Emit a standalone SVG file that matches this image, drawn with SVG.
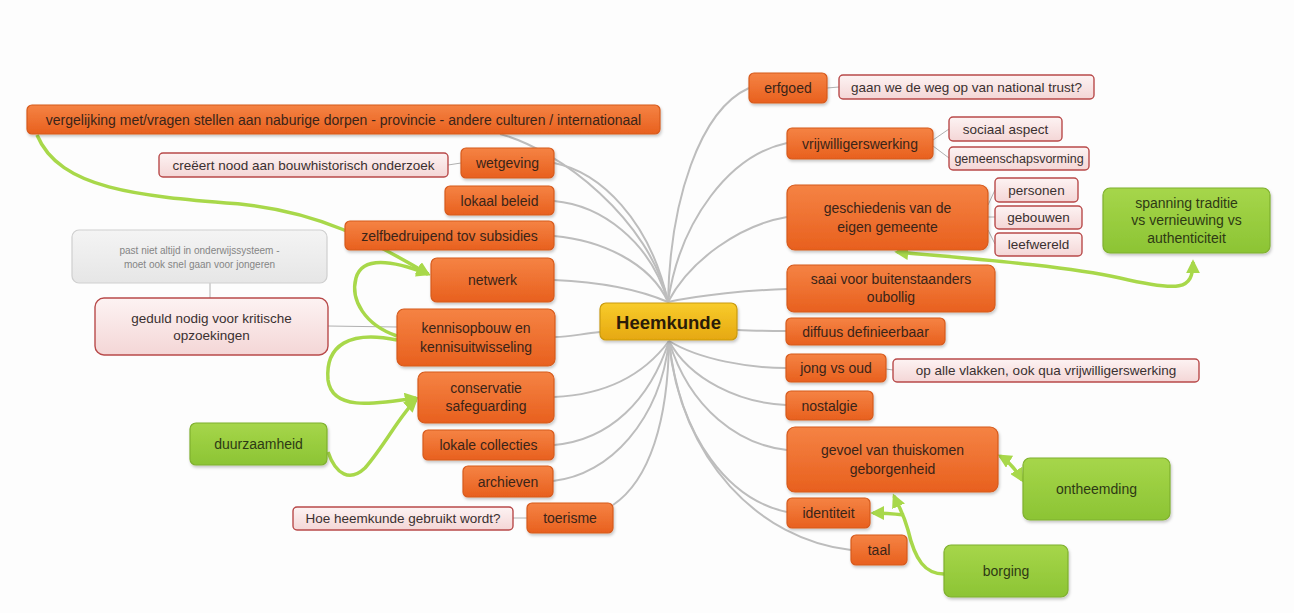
<svg xmlns="http://www.w3.org/2000/svg" width="1294" height="613" viewBox="0 0 1294 613">
<defs>
<linearGradient id="gOr" x1="0" y1="0" x2="0" y2="1"><stop offset="0" stop-color="#f58344"/><stop offset="1" stop-color="#e8601e"/></linearGradient>
<linearGradient id="gGr" x1="0" y1="0" x2="0" y2="1"><stop offset="0" stop-color="#a6d64a"/><stop offset="1" stop-color="#8cc434"/></linearGradient>
<linearGradient id="gGo" x1="0" y1="0" x2="0" y2="1"><stop offset="0" stop-color="#f8cc2c"/><stop offset="1" stop-color="#e6a810"/></linearGradient>
<linearGradient id="gPk" x1="0" y1="0" x2="0" y2="1"><stop offset="0" stop-color="#fdf3f3"/><stop offset="1" stop-color="#f4d6d6"/></linearGradient>
<linearGradient id="gGy" x1="0" y1="0" x2="0" y2="1"><stop offset="0" stop-color="#f4f4f4"/><stop offset="1" stop-color="#e6e6e6"/></linearGradient>
<filter id="sh" x="-10%" y="-20%" width="120%" height="150%"><feDropShadow dx="1" dy="2" stdDeviation="1.5" flood-color="#000" flood-opacity="0.22"/></filter>
<marker id="ga" viewBox="0 0 10 10" refX="8" refY="5" markerWidth="4" markerHeight="4" orient="auto-start-reverse"><path d="M0,0 L10,5 L0,10 z" fill="#a8d84a"/></marker>
<style>
.or{fill:url(#gOr);stroke:#d65a1c;stroke-width:1.2;filter:url(#sh)}
.gr{fill:url(#gGr);stroke:#7fb02e;stroke-width:1.2;filter:url(#sh)}
.go{fill:url(#gGo);stroke:#c99a10;stroke-width:1.2;filter:url(#sh)}
.pk{fill:url(#gPk);stroke:#b84a4a;stroke-width:1.4}
.gy{fill:url(#gGy);stroke:#cfcfcf;stroke-width:1.2}
text{font-family:"Liberation Sans","DejaVu Sans",Arial,sans-serif;font-size:14px;fill:#3a2418;text-anchor:middle;dominant-baseline:central}
.tg{fill:#2e3a14}
.tp{fill:#3a3030;font-size:13.5px}
.ts{font-size:12.5px}
.ty{fill:#858585;font-size:10px}
.th{font-size:18.5px;font-weight:bold;fill:#2a1c08}
.c path{fill:none;stroke:#bdbdbd;stroke-width:2}
.c .t{stroke:#b0b0b0;stroke-width:1}
.c .g{stroke:#a8d84a;stroke-width:3.5;marker-end:url(#ga)}
.c .gb{stroke:#a8d84a;stroke-width:3.5;marker-end:url(#ga);marker-start:url(#ga)}
</style>
</defs>
<rect width="1294" height="613" fill="#fdfdfd"/>
<g class="c" id="connectors">
<path d="M668,302 C650,220 560,150 500,134"/>
<path d="M668,302 C650,220 600,172 554,163"/>
<path d="M668,302 C650,240 600,205 554,201"/>
<path d="M668,302 C650,262 600,240 554,236"/>
<path d="M668,302 C640,290 600,282 554,280"/>
<path d="M600,332 C580,334 570,337 555,337"/>
<path d="M668,302 C670,200 700,110 749,88"/>
<path d="M668,302 C680,220 730,155 787,143"/>
<path d="M668,302 C690,260 740,225 787,217"/>
<path d="M668,302 C700,295 750,290 787,289"/>
<path d="M737,330 C755,331 770,331 786,331"/>
<path d="M669,341 C640,380 600,395 554,397"/>
<path d="M669,341 C650,400 610,440 554,445"/>
<path d="M669,341 C660,420 610,475 553,481"/>
<path d="M669,341 C668,420 650,480 613,505"/>
<path d="M669,341 C700,360 750,368 786,368"/>
<path d="M669,341 C690,380 740,403 786,405"/>
<path d="M669,341 C690,410 740,445 787,450"/>
<path d="M669,341 C680,440 730,500 787,512"/>
<path d="M669,341 C680,460 760,540 851,550"/>
<path class="t" d="M448,165 L461,163"/>
<path class="t" d="M513,518 L527,518"/>
<path class="t" d="M210,283 L210,298"/>
<path class="t" d="M328,326 L397,327"/>
<path class="t" d="M827,88 L839,87"/>
<path class="t" d="M933,140 L949,129"/>
<path class="t" d="M933,146 L949,158"/>
<path class="t" d="M988,205 L995,190"/>
<path class="t" d="M988,217 L995,217"/>
<path class="t" d="M988,230 L995,244"/>
<path class="t" d="M886,369 L893,370"/>
<path class="g" d="M37,135 C60,190 140,196 240,204 C320,212 370,240 428,274"/>
<path class="g" d="M397,336 C365,325 350,300 356,278 C362,256 392,260 428,274"/>
<path class="g" d="M397,340 C350,330 325,345 328,380 C332,410 370,405 416,398"/>
<path class="g" d="M328,452 C336,475 350,482 365,468 C385,445 400,415 416,400"/>
<path class="gb" d="M897,252 C960,258 1060,265 1120,278 C1180,292 1193,290 1193,262"/>
<path class="gb" d="M1000,456 C1010,462 1016,470 1022,480"/>
<path class="g" d="M944,574 C925,574 915,560 908,530 C903,512 898,505 894,496"/>
<path class="g" d="M904,515 C895,514 885,513 873,513"/>
</g>
<g id="n-heemkunde"><rect class="go" x="600" y="303" width="137" height="37" rx="6"/><text class="th" x="668.5" y="322">Heemkunde</text></g>
<g id="n-vergelijking"><rect class="or" x="27" y="105" width="633" height="29" rx="5"/><text x="343.5" y="120">vergelijking met/vragen stellen aan naburige dorpen - provincie - andere culturen / internationaal</text></g>
<g id="n-creeert"><rect class="pk" x="159" y="153" width="289" height="24" rx="4"/><text class="tp" x="303.5" y="165.5">creëert nood aan bouwhistorisch onderzoek</text></g>
<g id="n-wetgeving"><rect class="or" x="461" y="148" width="93" height="30" rx="5"/><text x="507.5" y="163">wetgeving</text></g>
<g id="n-lokaalbeleid"><rect class="or" x="445" y="186" width="109" height="29" rx="5"/><text x="499.5" y="201">lokaal beleid</text></g>
<g id="n-zelfbedruipend"><rect class="or" x="345" y="221" width="209" height="29" rx="5"/><text x="449.5" y="236">zelfbedruipend tov subsidies</text></g>
<g id="n-netwerk"><rect class="or" x="431" y="258" width="123" height="44" rx="6"/><text x="492.5" y="280">netwerk</text></g>
<g id="n-kennisopbouw"><rect class="or" x="397" y="309" width="158" height="57" rx="7"/><text x="476" y="328">kennisopbouw en</text><text x="476" y="347">kennisuitwisseling</text></g>
<g id="n-conservatie"><rect class="or" x="418" y="372" width="136" height="51" rx="7"/><text x="486" y="388">conservatie</text><text x="486" y="406">safeguarding</text></g>
<g id="n-lokalecollecties"><rect class="or" x="423" y="430" width="131" height="30" rx="5"/><text x="488.5" y="445">lokale collecties</text></g>
<g id="n-archieven"><rect class="or" x="463" y="466" width="90" height="31" rx="5"/><text x="508" y="481.5">archieven</text></g>
<g id="n-toerisme"><rect class="or" x="527" y="503" width="86" height="30" rx="5"/><text x="570" y="518">toerisme</text></g>
<g id="n-hoeheemkunde"><rect class="pk" x="293" y="507" width="220" height="23" rx="4"/><text class="tp" x="403" y="518.5">Hoe heemkunde gebruikt wordt?</text></g>
<g id="n-duurzaamheid"><rect class="gr" x="190" y="423" width="137" height="42" rx="6"/><text class="tg" x="258.5" y="444">duurzaamheid</text></g>
<g id="n-pastniet"><rect class="gy" x="72" y="230" width="255" height="53" rx="7"/><text class="ty" x="199.5" y="250">past niet altijd in onderwijssysteem -</text><text class="ty" x="199.5" y="264">moet ook snel gaan voor jongeren</text></g>
<g id="n-geduld"><rect class="pk" x="95" y="298" width="233" height="57" rx="9"/><text class="tp" x="211.5" y="318">geduld nodig voor kritische</text><text class="tp" x="211.5" y="335">opzoekingen</text></g>
<g id="n-erfgoed"><rect class="or" x="749" y="73" width="78" height="30" rx="5"/><text x="788" y="88">erfgoed</text></g>
<g id="n-nationaltrust"><rect class="pk" x="839" y="75" width="255" height="24" rx="4"/><text class="tp" x="966.5" y="87">gaan we de weg op van national trust?</text></g>
<g id="n-vrijwilligerswerking"><rect class="or" x="787" y="128" width="146" height="31" rx="5"/><text x="860" y="143.5">vrijwilligerswerking</text></g>
<g id="n-sociaal"><rect class="pk" x="949" y="117" width="113" height="24" rx="4"/><text class="tp" x="1005.5" y="129">sociaal aspect</text></g>
<g id="n-gemeenschap"><rect class="pk" x="949" y="147" width="140" height="23" rx="4"/><text class="tp ts" x="1019" y="158.5">gemeenschapsvorming</text></g>
<g id="n-geschiedenis"><rect class="or" x="787" y="185" width="201" height="65" rx="8"/><text x="887.5" y="208">geschiedenis van de</text><text x="887.5" y="227">eigen gemeente</text></g>
<g id="n-personen"><rect class="pk" x="995" y="178" width="83" height="24" rx="4"/><text class="tp" x="1036.5" y="190">personen</text></g>
<g id="n-gebouwen"><rect class="pk" x="995" y="206" width="87" height="23" rx="4"/><text class="tp" x="1038.5" y="217.5">gebouwen</text></g>
<g id="n-leefwereld"><rect class="pk" x="995" y="233" width="87" height="23" rx="4"/><text class="tp" x="1038.5" y="244.5">leefwereld</text></g>
<g id="n-spanning"><rect class="gr" x="1103" y="188" width="167" height="65" rx="7"/><text class="tg" x="1186.5" y="203">spanning traditie</text><text class="tg" x="1186.5" y="220">vs vernieuwing vs</text><text class="tg" x="1186.5" y="238">authenticiteit</text></g>
<g id="n-saai"><rect class="or" x="787" y="265" width="208" height="47" rx="7"/><text x="891" y="279">saai voor buitenstaanders</text><text x="891" y="297">oubollig</text></g>
<g id="n-diffuus"><rect class="or" x="786" y="318" width="159" height="27" rx="5"/><text x="865.5" y="331.5">diffuus definieerbaar</text></g>
<g id="n-jongvsoud"><rect class="or" x="786" y="354" width="100" height="28" rx="5"/><text x="836" y="368">jong vs oud</text></g>
<g id="n-opallevlakken"><rect class="pk" x="893" y="359" width="306" height="23" rx="4"/><text class="tp" x="1046" y="370.5">op alle vlakken, ook qua vrijwilligerswerking</text></g>
<g id="n-nostalgie"><rect class="or" x="786" y="391" width="87" height="29" rx="5"/><text x="829.5" y="405.5">nostalgie</text></g>
<g id="n-gevoel"><rect class="or" x="787" y="427" width="211" height="65" rx="8"/><text x="892.5" y="450">gevoel van thuiskomen</text><text x="892.5" y="469">geborgenheid</text></g>
<g id="n-ontheemding"><rect class="gr" x="1023" y="458" width="147" height="62" rx="7"/><text class="tg" x="1096.5" y="489">ontheemding</text></g>
<g id="n-identiteit"><rect class="or" x="787" y="498" width="83" height="30" rx="5"/><text x="828.5" y="513">identiteit</text></g>
<g id="n-taal"><rect class="or" x="851" y="535" width="56" height="30" rx="5"/><text x="879" y="550">taal</text></g>
<g id="n-borging"><rect class="gr" x="944" y="545" width="124" height="52" rx="7"/><text class="tg" x="1006" y="571">borging</text></g>
</svg>
